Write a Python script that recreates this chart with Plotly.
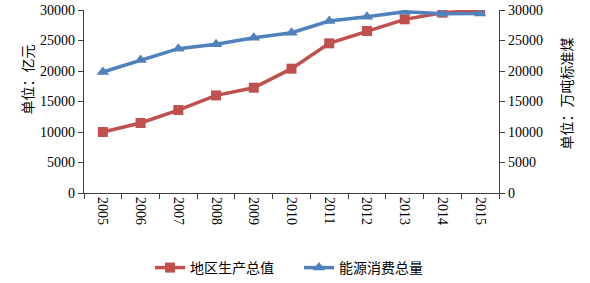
import plotly.graph_objects as go

years = ["2005", "2006", "2007", "2008", "2009", "2010", "2011", "2012", "2013", "2014", "2015"]
gdp = [10000, 11480, 13600, 16000, 17260, 20380, 24540, 26560, 28470, 29560, 29950]
energy = [19840, 21800, 23660, 24370, 25460, 26280, 28200, 28900, 29720, 29400, 29430]

gdp_name = "地区生产总值"
energy_name = "能源消费总量"
left_title = "单位：亿元"
right_title = "单位：万吨标准煤"
yticks = [0, 5000, 10000, 15000, 20000, 25000, 30000]

FONT = "Liberation Serif, 'Times New Roman', 'Noto Sans CJK SC', serif"
RED = "#C0504D"
BLUE = "#4F81BD"

W, H = 590, 283
L, R, T, B = 84, 91, 10, 90
PW, PH = W - L - R, H - T - B


def px_x(page_x):
    return (page_x - L) / PW


def px_y(page_y):
    return (H - B - page_y) / PH


fig = go.Figure()
fig.add_trace(go.Scatter(
    x=years, y=gdp, name=gdp_name, mode="lines+markers",
    line=dict(color=RED, width=3.5),
    marker=dict(symbol="square", size=10, color=RED),
    yaxis="y",
))
fig.add_trace(go.Scatter(
    x=years, y=energy, name=energy_name, mode="lines+markers",
    line=dict(color=BLUE, width=3.5),
    marker=dict(symbol="triangle-up", size=11, color=BLUE),
    yaxis="y2",
))

axis_common = dict(
    showgrid=False, zeroline=False, showline=True, linecolor="#404040", linewidth=1.3,
    ticks="outside", ticklen=5, tickcolor="#404040", automargin=False,
    ticklabeloverflow="allow",
    tickfont=dict(family=FONT, size=14, color="#000"),
)

fig.update_layout(
    width=W, height=H,
    margin=dict(l=L, r=R, t=T, b=B, autoexpand=False),
    paper_bgcolor="white", plot_bgcolor="white",
    font=dict(family=FONT, size=14, color="#000"),
    xaxis=dict(
        type="category", range=[-0.5, 10.5], tickson="boundaries", tickangle=90,
        **axis_common,
    ),
    yaxis=dict(range=[0, 30000], tickvals=yticks, tickformat="d", **axis_common),
    yaxis2=dict(range=[0, 30000], tickvals=yticks, tickformat="d", overlaying="y", side="right", **axis_common),
    showlegend=True,
    legend=dict(orientation="h", x=px_x(150), xanchor="left", y=px_y(268), yanchor="middle",
                entrywidth=104, entrywidthmode="pixels",
                font=dict(family=FONT, size=14), tracegroupgap=0),
    annotations=[
        dict(text=left_title, xref="paper", yref="paper", x=px_x(18), y=px_y(80),
             textangle=-90, showarrow=False, font=dict(family=FONT, size=14)),
        dict(text=right_title, xref="paper", yref="paper", x=px_x(577), y=px_y(94),
             textangle=-90, showarrow=False, font=dict(family=FONT, size=14)),
    ],
)

fig.write_html("out.html", config={"displayModeBar": False},
               post_script="document.body.style.margin='0';")
